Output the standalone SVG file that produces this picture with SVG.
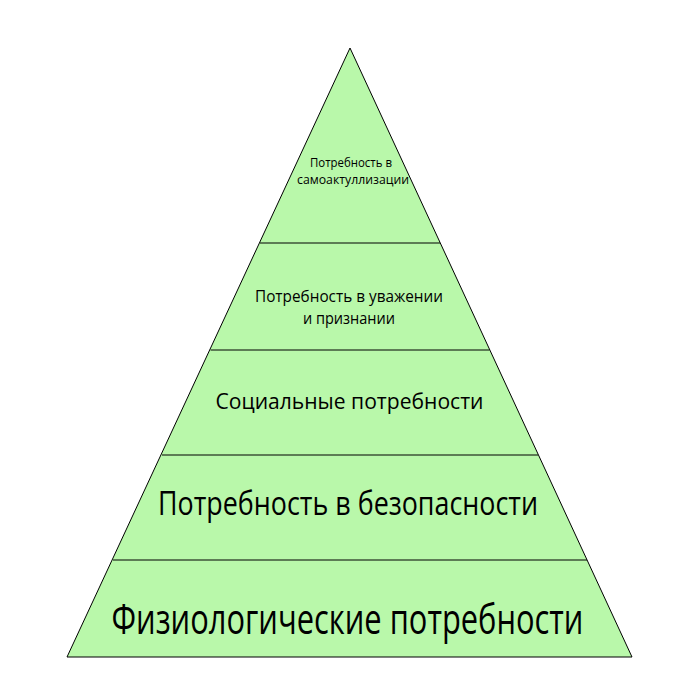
<svg xmlns="http://www.w3.org/2000/svg" width="700" height="700" viewBox="0 0 700 700">
  <style>
    .lvl { fill: #b9f8aa; stroke: #000; stroke-width: 1; }
    .sep { stroke: #000; stroke-width: 1; fill: none; }
    .lbl { font-family: "Open Sans", "DejaVu Sans", sans-serif; fill: #000; text-anchor: middle; }
  </style>
  <rect width="700" height="700" fill="#fff"/>
  <g id="pyramid">
    <polygon class="lvl" points="350,48 632,657 67,657"/>
  </g>
  <g id="connectors">
    <line class="sep" x1="260" y1="243" x2="440" y2="243"/>
    <line class="sep" x1="210.5" y1="350" x2="489.5" y2="350"/>
    <line class="sep" x1="162" y1="455" x2="538" y2="455"/>
    <line class="sep" x1="113" y1="560" x2="587" y2="560"/>
  </g>
  <g id="level5">
    <text class="lbl" x="351" y="167" font-size="12.5" textLength="82" lengthAdjust="spacingAndGlyphs">Потребность в</text>
    <text class="lbl" x="353" y="184" font-size="12.5" textLength="112" lengthAdjust="spacingAndGlyphs">самоактуллизации</text>
  </g>
  <g id="level4">
    <text class="lbl" x="349" y="302" font-size="17" textLength="188" lengthAdjust="spacingAndGlyphs">Потребность в уважении</text>
    <text class="lbl" x="349" y="324" font-size="17" textLength="92" lengthAdjust="spacingAndGlyphs">и признании</text>
  </g>
  <g id="level3">
    <text class="lbl" x="349.5" y="409" font-size="22" textLength="268" lengthAdjust="spacingAndGlyphs">Социальные потребности</text>
  </g>
  <g id="level2">
    <text class="lbl" x="348" y="515" font-size="32" textLength="380" lengthAdjust="spacingAndGlyphs">Потребность в безопасности</text>
  </g>
  <g id="level1">
    <text class="lbl" x="347.5" y="634" font-size="42" textLength="472" lengthAdjust="spacingAndGlyphs">Физиологические потребности</text>
  </g>
</svg>
